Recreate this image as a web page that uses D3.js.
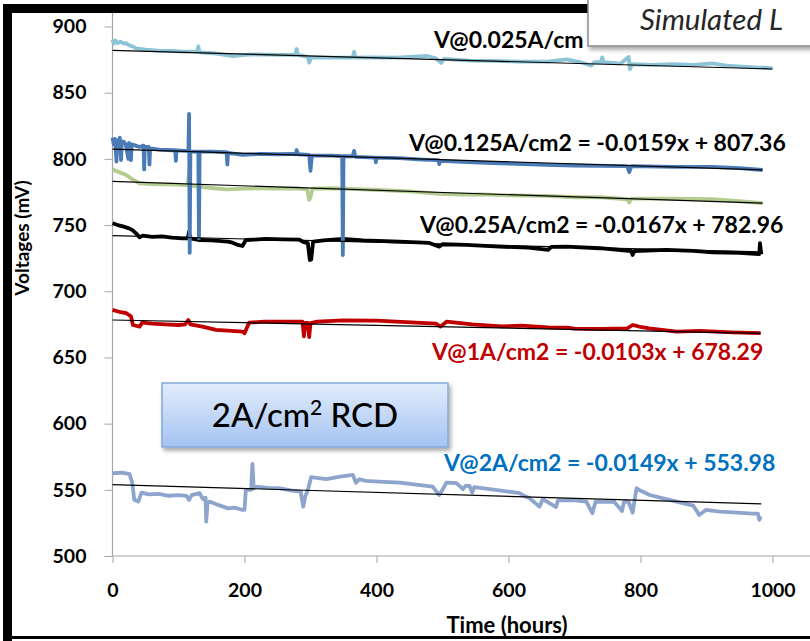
<!DOCTYPE html>
<html>
<head>
<meta charset="utf-8">
<script src="https://cdn.jsdelivr.net/npm/d3@7"></script>
<style>
 body{margin:0;background:#fff;}
 svg{display:block;}
 text{font-family:Lato,'Open Sans',sans-serif;}
</style>
</head>
<body>
<div id="chart"></div>
<script>
// ---- data: [hours, mV] ----
var lightBlue = [[0,890],[2,887],[4,889.5],[8,887.5],[12,888.5],[18,887],[21,887.5],[24,886],[30,885],[36,883.5],[50,882.5],[69,881.7],[90,881.5],[107,881],[128,881],[130,885],[132,880.5],[152,879.8],[170,878.5],[183,877.7],[200,878.5],[223,879],[253,878.5],[277,878.5],[279,883],[281,878.5],[296,877],[298,872.7],[301,876.5],[333,876.5],[364,876.5],[366,881],[368,876.5],[389,876.7],[430,876.5],[477,877.7],[490,876],[498,872.5],[502,875.5],[541,874.2],[580,874],[617,873.4],[660,873.5],[688,875.2],[710,873],[725,870.5],[730,873],[740,873],[742,876.7],[744,873],[770,872],[782,877],[784,867.7],[787,871.5],[818,871],[850,871.5],[879,871],[909,872.2],[930,870.5],[960,869.5],[980,869],[1000,868.5]];

var darkBlue = [[0,816],[2,811],[4,815],[6,798],[7,814],[9,810],[11,816],[13,799],[14,813],[17,813],[20,811],[24,800],[25,812],[28,799],[29,811],[35,810],[41,809],[47,810],[48,792],[49,809],[55,809],[56,795.6],[57,808],[71,807],[90,806.5],[95,806.5],[96,798.5],[97,806.5],[110,806],[115,806],[116,834],[117,729],[118,805.5],[130,805.5],[131,740],[132,805.5],[150,805.5],[170,805],[173,805],[174,795.6],[175,804.5],[197,803],[223,803.7],[250,803.5],[273,803.7],[278,803.5],[279,806.7],[281,803.5],[298,803],[300,791],[302,802.5],[333,802.4],[348,802],[349,727.4],[350,802],[364,802],[366,806],[368,801.5],[398,801],[399,797.4],[400,801],[435,800.5],[470,799.5],[494,799],[495,796],[496,798.5],[556,797.1],[600,796.5],[657,795.4],[700,795],[780,794.5],[783,790],[786,794.5],[850,794],[909,794],[950,793],[985,791.6]];

var green = [[0,792],[10,790],[21,787.8],[30,784.5],[41,781.6],[60,781],[81,780.8],[100,780.5],[114,780],[116,789.7],[118,780],[132,779],[150,778],[172,777],[200,777.5],[223,777.8],[250,777.5],[279,777.8],[295,777],[298,769],[300,771],[303,777.5],[333,777.8],[380,777],[405,776.5],[450,775.5],[495,773.5],[530,773],[560,773.2],[600,772.5],[657,772],[700,771],[740,771],[780,769.5],[783,767],[786,770],[850,770],[909,769.5],[950,768],[985,766.5]];

var black = [[0,751.4],[8,750],[17,748.8],[25,747.5],[30,746.3],[38,742.5],[41,740.8],[46,742],[60,741],[75,741.5],[90,740.5],[106,740],[114,740],[116,745],[118,740],[132,738.7],[150,738.5],[175,737.5],[182,736.7],[190,735],[197,734.2],[202,738.7],[215,739],[232,739.5],[260,739.2],[283,739],[290,737],[296,736.3],[299,723.6],[301,724],[304,737.5],[320,738.5],[349,739.5],[380,738.5],[435,737.5],[480,736.5],[495,733.7],[500,735.5],[536,735],[586,733.7],[630,733],[660,731.2],[665,733.5],[688,733.7],[738,732.5],[786,730.4],[788,727.4],[791,730.4],[839,731.2],[880,730.5],[909,729.4],[950,729],[980,728],[981,736.3],[983,728]];

var red = [[0,685.9],[10,684.5],[21,683.4],[28,681],[31,674.5],[41,673.3],[45,676.3],[60,675.5],[80,675],[100,674.5],[110,675],[115,678.3],[118,675],[136,673.3],[157,670.8],[180,670],[197,669.5],[200,668.3],[207,676.3],[230,677],[250,677],[275,677],[288,677],[290,666],[292,676],[296,676],[298,665.3],[300,676],[310,677],[350,678],[400,677.8],[460,676.3],[490,675.5],[497,673.3],[506,677],[545,675],[590,673.5],[620,674],[660,672.7],[688,672.5],[700,671.8],[738,671.5],[780,672],[788,674.5],[792,674.1],[800,673],[813,672],[855,669.5],[889,670],[939,669],[982,668.3]];

var blue2A = [[0,562.5],[15,563],[26,561.8],[30,555],[33,542.4],[39,541.1],[44,547.9],[55,546.5],[70,547],[85,545.5],[100,546],[112,545.5],[116,542.4],[120,546],[132,547.5],[137,543],[141,544],[142,526],[144,540],[147,541.1],[160,538.6],[175,536],[185,536.5],[196,534.9],[200,534.8],[202,549.9],[210,550],[212,569.6],[214,551],[216,552.4],[235,551.5],[252,551.2],[270,549.5],[285,548.6],[289,537.3],[292,545],[296,549.9],[301,559.5],[324,558],[345,560],[364,561.3],[369,555.4],[374,558],[384,556.7],[410,556],[435,555.4],[460,554],[485,552.4],[495,546.1],[500,550],[506,555.4],[521,555],[531,550.5],[535,553],[541,552.9],[545,548],[548,552],[580,550],[617,547.5],[621,546.1],[632,543.6],[647,537.3],[652,543],[672,537],[675,542],[700,542],[718,541.1],[727,532.3],[732,541.1],[760,541],[772,534],[775,541],[782,541],[788,532.8],[794,551.2],[798,549.9],[814,546.1],[839,543],[864,539.9],[880,538],[889,531],[899,534.8],[920,533.5],[940,533],[970,532],[978,532],[980,527.3],[982,530]];

// drawing order: light blue, green, black, red, 2A, dark blue
var seriesData = [lightBlue, green, black, red, blue2A, darkBlue];
var seriesColors = ['#8cc3d6','#b4cc8f','#000000','#c00000','#8da5cc','#4a7bb7'];

// linear trend lines (intercept, slope, last hour)
var trendIntercept = [882, 807.36, 782.96, 742, 678.29, 553.98];
var trendSlope = [-0.0141, -0.0159, -0.0167, -0.0125, -0.0103, -0.0149];
var trendEnd = [1000, 985, 985, 983, 982, 983];

var eqTexts = ['V@0.025A/cm', 'V@0.125A/cm2 = -0.0159x + 807.36', 'V@0.25A/cm2 = -0.0167x + 782.96', 'V@1A/cm2 = -0.0103x + 678.29', 'V@2A/cm2 = -0.0149x + 553.98'];
var eqColors = ['#000000', '#000000', '#000000', '#c00000', '#0070c0'];

var yTicks = [500,550,600,650,700,750,800,850,900];
var xTicks = [0,200,400,600,800,1000];

// ---- drawing ----
var width = 810, height = 641;
var svg = d3.select('#chart').append('svg')
  .attr('width', width)
  .attr('height', height);

var defs = svg.append('defs');
var grad = defs.append('linearGradient').attr('id','rcdGrad')
  .attr('x1',0).attr('y1',0).attr('x2',0).attr('y2',1);
grad.append('stop').attr('offset','0%').attr('stop-color','#e2ecfc');
grad.append('stop').attr('offset','100%').attr('stop-color','#a4c3f1');
var shadow = defs.append('filter').attr('id','shadow').attr('x','-10%').attr('y','-10%').attr('width','130%').attr('height','140%');
shadow.append('feDropShadow').attr('dx',2).attr('dy',3).attr('stdDeviation',2).attr('flood-color','#000').attr('flood-opacity',0.35);

var x = d3.scaleLinear().domain([0,1000]).range([112.5,772.5]);
var y = d3.scaleLinear().domain([500,900]).range([556,26.5]);

// axes
var yAxis = d3.axisLeft(y).tickValues(yTicks).tickSize(8).tickSizeOuter(0).tickPadding(18);
var xAxis = d3.axisBottom(x).tickValues(xTicks).tickFormat(d3.format('d'))
  .tickSize(7).tickSizeOuter(0).tickPadding(20);

var gy = svg.append('g').attr('transform','translate(' + x(0) + ',0)').call(yAxis);
var gx = svg.append('g').attr('transform','translate(0,' + y(500) + ')').call(xAxis);
[gy, gx].forEach(function(g){
  g.select('.domain').remove();
  g.selectAll('line').attr('stroke','#a6a6a6').attr('stroke-width',1);
  g.selectAll('text').attr('fill','#000').style('font-size','19.5px').style('font-weight','bold');
});

svg.append('line').attr('x1',x(0)).attr('x2',x(0)).attr('y1',13).attr('y2',y(500))
  .attr('stroke','#a6a6a6').attr('stroke-width',1.2);
svg.append('line').attr('x1',x(0)).attr('x2',width).attr('y1',y(500)).attr('y2',y(500))
  .attr('stroke','#a6a6a6').attr('stroke-width',1.2);

// traces
var line = d3.line()
  .x(function(d){ return x(d[0]); })
  .y(function(d){ return y(d[1]); });

svg.append('g').selectAll('path')
  .data(seriesData)
  .enter().append('path')
    .attr('d', line)
    .attr('fill','none')
    .attr('stroke', function(d,i){ return seriesColors[i]; })
    .attr('stroke-width', 3.8)
    .attr('stroke-linejoin','round');

// trend lines
svg.append('g').selectAll('line')
  .data(trendIntercept)
  .enter().append('line')
    .attr('x1', x(0))
    .attr('y1', function(d){ return y(d); })
    .attr('x2', function(d,i){ return x(trendEnd[i]); })
    .attr('y2', function(d,i){ return y(d + trendSlope[i]*trendEnd[i]); })
    .attr('stroke','#000')
    .attr('stroke-width',1.2);

// equation labels
var eqPos = [[434,48],[409,151],[420,233],[432,360],[444,471]];
svg.append('g').selectAll('text')
  .data(eqTexts)
  .enter().append('text')
    .attr('x', function(d,i){ return eqPos[i][0]; })
    .attr('y', function(d,i){ return eqPos[i][1]; })
    .attr('fill', function(d,i){ return eqColors[i]; })
    .style('font-size','23px')
    .style('font-weight','bold')
    .text(function(d){ return d; });

// axis titles
svg.append('text')
  .attr('x', 507).attr('y', 633)
  .attr('text-anchor','middle')
  .style('font-size','22px').style('font-weight','bold')
  .text('Time (hours)');
svg.append('text')
  .attr('transform','translate(29,238) rotate(-90)')
  .attr('text-anchor','middle')
  .style('font-size','19px').style('font-weight','bold')
  .text('Voltages (mV)');

// "2A/cm2 RCD" box
svg.append('rect')
  .attr('x',162).attr('y',383).attr('width',286).attr('height',64)
  .attr('fill','url(#rcdGrad)').attr('stroke','#84a8dc').attr('stroke-width',1.5)
  .attr('filter','url(#shadow)');
var rcd = svg.append('text')
  .attr('x',305).attr('y',427)
  .attr('text-anchor','middle')
  .style('font-size','33px')
  .style('font-weight','500');
rcd.append('tspan').text('2A/cm');
rcd.append('tspan').attr('dy',-12).style('font-size','21px').text('2');
rcd.append('tspan').attr('dy',12).text(' RCD');

// frame
svg.append('rect').attr('x',3).attr('y',4).attr('width',width-3).attr('height',9).attr('fill','#000');
svg.append('rect').attr('x',3).attr('y',4).attr('width',9).attr('height',height-4).attr('fill','#000');
svg.append('rect').attr('x',3).attr('y',636).attr('width',width-3).attr('height',3).attr('fill','#000');

// "Simulated L" title box
svg.append('rect')
  .attr('x',588).attr('y',-4).attr('width',260).attr('height',50)
  .attr('fill','#fff').attr('stroke','#8a8a8a').attr('stroke-width',1.5)
  .attr('filter','url(#shadow)');
svg.append('text')
  .attr('x',640).attr('y',30)
  .attr('fill','#262626')
  .style('font-size','29.5px')
  .style('font-style','italic')
  .text('Simulated L');
</script>
</body>
</html>
